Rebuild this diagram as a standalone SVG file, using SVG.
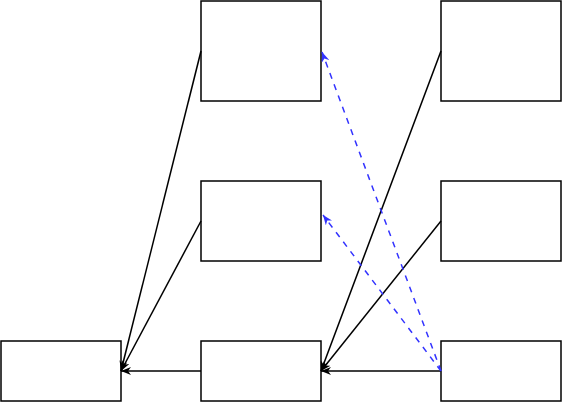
<svg xmlns="http://www.w3.org/2000/svg" width="562" height="402" viewBox="0 0 562 402">
<style>
.n{fill:#fff;stroke:#000;stroke-width:1.5}
.e{fill:none;stroke:#000;stroke-width:1.5}
.d{fill:none;stroke:#3333ff;stroke-width:1.5;stroke-dasharray:6 6}
</style>
<defs>
<marker id="a" viewBox="0 0 10 8" refX="10" refY="4" markerWidth="10" markerHeight="8" markerUnits="userSpaceOnUse" orient="auto"><path d="M0,0 L10,4 L0,8 L3,4 Z" fill="#000"/></marker>
<marker id="b" viewBox="0 0 10 8" refX="10" refY="4" markerWidth="10" markerHeight="8" markerUnits="userSpaceOnUse" orient="auto"><path d="M0,0 L10,4 L0,8 L3,4 Z" fill="#3333ff"/></marker>
</defs>
<g id="n1"><rect class="n" x="201" y="1" width="120" height="100"/></g>
<g id="n2"><rect class="n" x="441" y="1" width="120" height="100"/></g>
<g id="n3"><rect class="n" x="201" y="181" width="120" height="80"/></g>
<g id="n4"><rect class="n" x="441" y="181" width="120" height="80"/></g>
<g id="n5"><rect class="n" x="1" y="341" width="120" height="60"/></g>
<g id="n6"><rect class="n" x="201" y="341" width="120" height="60"/></g>
<g id="n7"><rect class="n" x="441" y="341" width="120" height="60"/></g>
<g id="edges">
<path class="e" d="M201,51 L121,371" marker-end="url(#a)"/>
<path class="e" d="M201,221 L121,371" marker-end="url(#a)"/>
<path class="e" d="M201,371 L121,371" marker-end="url(#a)"/>
<path class="e" d="M441,51 L321,371" marker-end="url(#a)"/>
<path class="e" d="M441,221 L321,371" marker-end="url(#a)"/>
<path class="e" d="M441,371 L321,371" marker-end="url(#a)"/>
<path class="d" d="M441,371 L322,52" marker-end="url(#b)"/>
<path class="d" d="M441,371 L323,215" marker-end="url(#b)"/>
</g>
</svg>
